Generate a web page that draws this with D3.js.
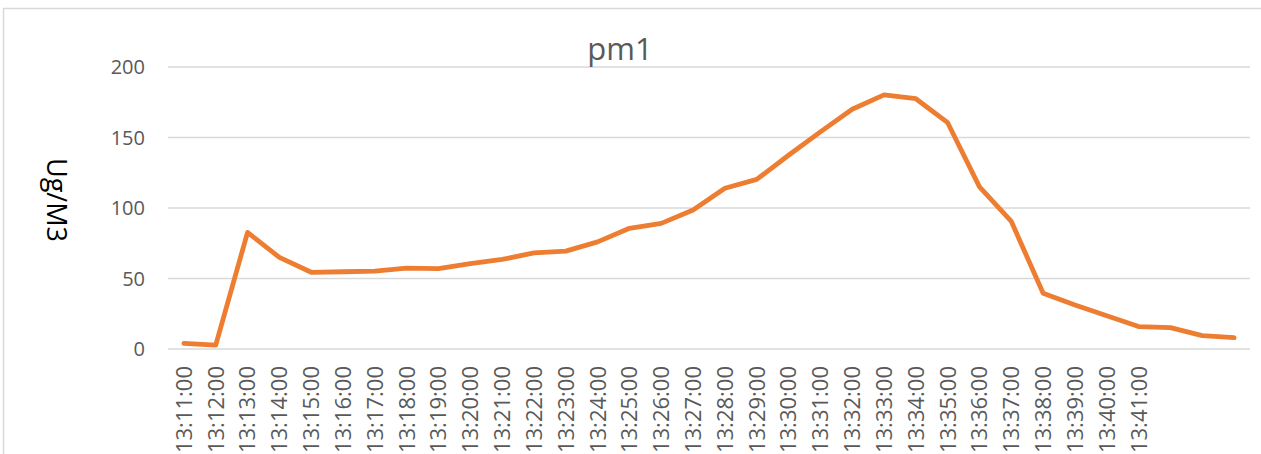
<!DOCTYPE html>
<html lang="en">
<head>
  <meta charset="UTF-8">
  <title>pm1</title>
  <style>
    body { margin: 0; background: #fff; overflow: hidden; }
    svg { display: block; font-family: "Open Sans", sans-serif; }
    .grid line { stroke: #d9d9d9; stroke-width: 1.5px; }
    .tick-label { fill: #595959; font-size: 20px; }
  </style>
</head>
<body>
  <svg width="1261" height="454"></svg>
  <script src="https://d3js.org/d3.v7.min.js"></script>
  <script>
    // times along the x axis (last three points have no label in the source)
    const times = [
      "13:11:00", "13:12:00", "13:13:00", "13:14:00", "13:15:00", "13:16:00",
      "13:17:00", "13:18:00", "13:19:00", "13:20:00", "13:21:00", "13:22:00",
      "13:23:00", "13:24:00", "13:25:00", "13:26:00", "13:27:00", "13:28:00",
      "13:29:00", "13:30:00", "13:31:00", "13:32:00", "13:33:00", "13:34:00",
      "13:35:00", "13:36:00", "13:37:00", "13:38:00", "13:39:00", "13:40:00",
      "13:41:00", "", "", ""
    ];
    const pm1 = [
      4, 2.8, 82.7, 65, 54.4, 54.8, 55.3, 57.3, 57, 60.6, 63.5, 68.2,
      69.4, 76, 85.6, 89.1, 98.6, 114, 120.3, 137.4, 154, 170, 180.2, 177.5,
      160.5, 115, 90.5, 39.5, 31.2, 23.6, 15.9, 15.2, 9.5, 8
    ];
    const yTicks = [0, 50, 100, 150, 200];

    const svg = d3.select("svg");
    const plotLeft = 168, plotRight = 1250, plotTop = 67, plotBottom = 349;

    // chart frame
    svg.append("rect")
      .attr("x", 3.5).attr("y", 8.5)
      .attr("width", 1400).attr("height", 600)
      .attr("fill", "none").attr("stroke", "#d9d9d9").attr("stroke-width", 1.5);

    const x = d3.scaleBand().domain(d3.range(times.length)).range([plotLeft, plotRight]);
    const y = d3.scaleLinear().domain([0, 200]).range([plotBottom, plotTop]);
    const cx = i => x(i) + x.bandwidth() / 2;

    // gridlines
    svg.append("g").attr("class", "grid")
      .selectAll("line").data(yTicks).join("line")
      .attr("x1", plotLeft).attr("x2", plotRight)
      .attr("y1", d => y(d)).attr("y2", d => y(d));

    // y tick labels
    svg.append("g").selectAll("text").data(yTicks).join("text")
      .attr("class", "tick-label")
      .attr("x", plotLeft - 23).attr("y", d => y(d))
      .attr("dy", "0.35em")
      .attr("text-anchor", "end")
      .text(d => d);

    // x tick labels, rotated
    svg.append("g").selectAll("text").data(times).join("text")
      .attr("class", "tick-label")
      .style("font-size", "22px")
      .attr("transform", (d, i) => `translate(${cx(i)},366) rotate(-90)`)
      .attr("text-anchor", "end")
      .attr("dy", "0.36em")
      .text(d => d);

    // title
    svg.append("text")
      .attr("x", 620).attr("y", 60)
      .attr("text-anchor", "middle")
      .attr("fill", "#595959")
      .style("font-size", "31px")
      .text("pm1");

    // y axis title
    svg.append("text")
      .attr("transform", "translate(56,200) rotate(90)")
      .attr("text-anchor", "middle")
      .attr("dy", "0.35em")
      .attr("fill", "#000")
      .style("font-size", "27px")
      .text("Ug/M3");

    const line = d3.line().x((d, i) => cx(i)).y(d => y(d));
    svg.append("path")
      .datum(pm1)
      .attr("fill", "none")
      .attr("stroke", "#ed7d31")
      .attr("stroke-width", 4.8)
      .attr("stroke-linejoin", "round")
      .attr("stroke-linecap", "round")
      .attr("d", line);
  </script>
</body>
</html>
